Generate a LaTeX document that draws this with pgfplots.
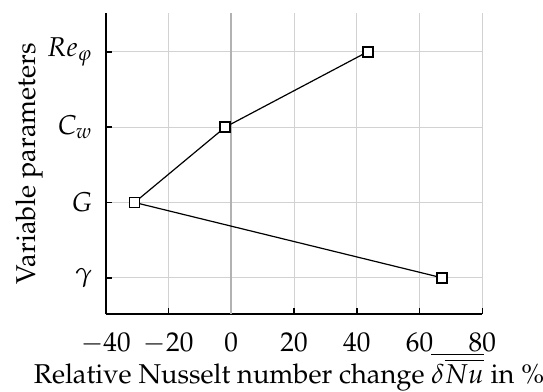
\documentclass[border=0pt]{standalone}
\usepackage[T1]{fontenc}
\usepackage{mathpazo}
\usepackage{pgfplots}
\pgfplotsset{compat=1.18}
\begin{document}%
\begin{tikzpicture}[font=\fontsize{13.6}{16}\selectfont]
\begin{axis}[
  scale only axis,
  width=188.3pt, height=150.35pt,
  xmin=-40, xmax=80,
  ymin=-0.48, ymax=3.51,
  axis x line=bottom, axis y line=left,
  axis line style={-, line width=1.1pt},
  xtick={-40,-20,0,20,40,60,80},
  ytick={0,1,2,3},
  yticklabels={$\gamma$,$G$,$C_w$,$Re_\varphi$},
  tick align=inside,
  major tick length=3pt,
  tick style={black, line width=0.8pt},
  grid=major,
  grid style={gray!35, line width=0.5pt},
  tick label style={font=\fontsize{13.6}{16}\selectfont},
  label style={font=\fontsize{13.6}{16}\selectfont},
  xticklabel style={anchor=base, yshift=-18.9pt},
  yticklabel style={anchor=east, inner sep=0pt, xshift=-6.5pt},
  xlabel={Relative Nusselt number change $\overline{\delta\overline{Nu}}$ in \%},
  ylabel={Variable parameters},
  xlabel style={at={(axis description cs:0.5,0)}, anchor=base, inner sep=0pt, yshift=-34.5pt, xshift=-2.5pt},
  ylabel style={at={(axis description cs:-0.1875,0.5)}, anchor=base},
]
\addplot[gray!60, line width=1pt, forget plot] coordinates {(0,-0.48) (0,3.51)};
\addplot[black, line width=0.6pt, mark=square*, mark size=2.5pt,
  mark options={fill=white, draw=black, line width=0.9pt}]
  coordinates {(43.5,3) (-1.9,2) (-30.8,1) (67.2,0)};
\coordinate (sw) at (rel axis cs:0,0);
\end{axis}
\pgfresetboundingbox
\path (sw) ++(-52.85pt,-39pt) rectangle ++(271.5pt,196pt);
\end{tikzpicture}%
\end{document}
